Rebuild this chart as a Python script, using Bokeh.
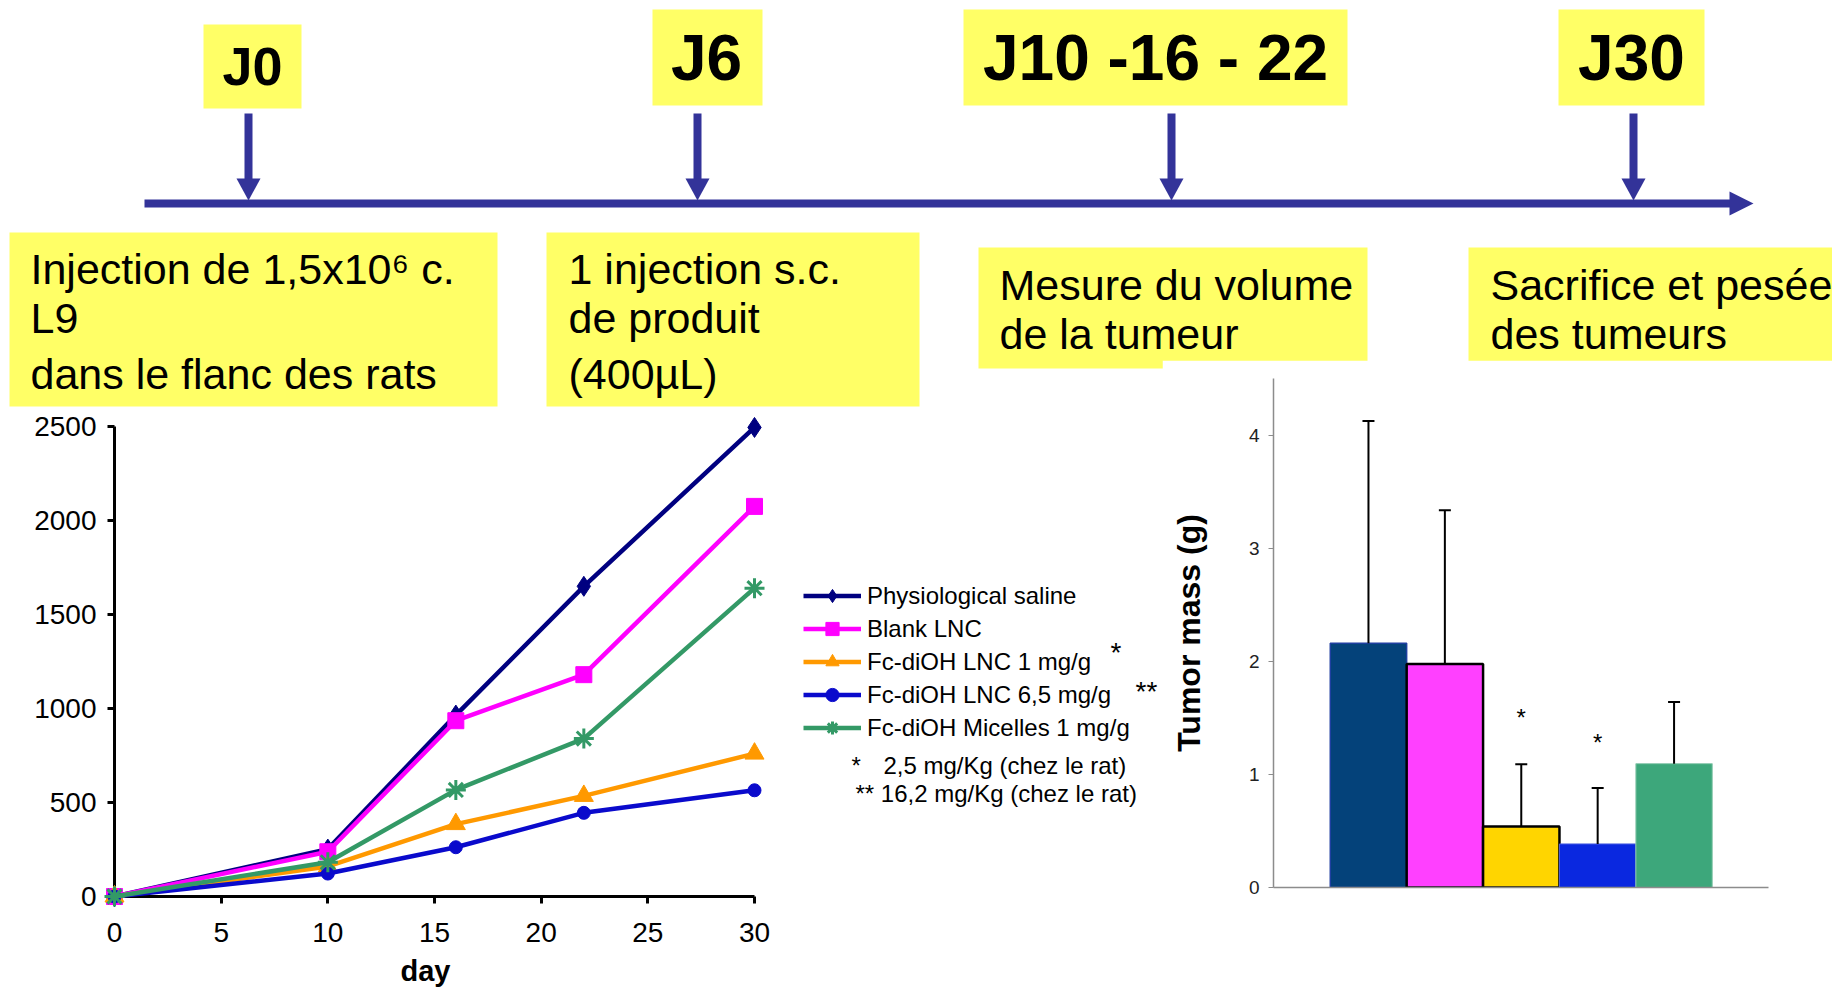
from bokeh.plotting import figure
from bokeh.models import (Range1d, Legend, LegendItem, Whisker, TeeHead, ColumnDataSource,
                          FixedTicker, Label, Title)
from bokeh.layouts import column, row
from bokeh.embed import file_html
from bokeh.resources import INLINE
from bokeh.core.properties import value

FONT = "Liberation Sans"

# ---------------- data ----------------
days = [0, 10, 16, 22, 30]
series_names = ["Physiological saline", "Blank LNC", "Fc-diOH LNC 1 mg/g",
                "Fc-diOH LNC 6,5 mg/g", "Fc-diOH Micelles 1 mg/g"]
vol_saline = [0, 252, 965, 1650, 2495]
vol_blank = [0, 238, 935, 1180, 2075]
vol_fc1 = [0, 160, 385, 535, 760]
vol_fc65 = [0, 122, 262, 445, 565]
vol_micelles = [0, 182, 567, 840, 1640]
day_ticks = [0, 5, 10, 15, 20, 25, 30]
volume_ticks = [0, 500, 1000, 1500, 2000, 2500]

mass_groups = series_names
mass_mean = [2.16, 1.975, 0.54, 0.385, 1.095]
mass_err_top = [4.125, 3.335, 1.09, 0.88, 1.64]
mass_ticks = [0, 1, 2, 3, 4]
mass_stars = ["", "", "*", "*", ""]
mass_star_y = [0, 0, 1.50, 1.28, 0]

timeline_days = ["J0", "J6", "J10 -16 - 22", "J30"]
timeline_notes = [["Injection de 1,5x10\u2076 c.", "L9", "dans le flanc des rats"],
                  ["1 injection s.c.", "de produit", "(400\u00b5L)"],
                  ["Mesure du volume", "de la tumeur"],
                  ["Sacrifice et pes\u00e9e", "des tumeurs"]]
footnotes = ["2,5 mg/Kg (chez le rat)", "** 16,2 mg/Kg (chez le rat)"]

YEL = "#FFFF66"
TL = "#333399"


def ty(baseline, fs):
    # vertical anchor for a text whose baseline should sit at `baseline`
    return baseline - 0.41 * fs


# ---------------- top timeline (pixel coordinate canvas) ----------------
top = figure(width=1832, height=408, x_range=Range1d(0, 1832), y_range=Range1d(408, 0),
             output_backend="svg", toolbar_location=None, min_border=0,
             x_axis_type=None, y_axis_type=None, outline_line_color=None)
top.grid.visible = False

top.quad(left=[203, 652, 963, 1558, 9, 546, 978, 1468],
         right=[301, 762, 1347, 1704, 497, 919, 1367, 1848],
         top=[24, 9, 9, 9, 232, 232, 247, 247],
         bottom=[108, 105, 105, 105, 406, 406, 368, 368],
         fill_color=YEL, line_color=None)

top.quad(left=[144], right=[1731], top=[199], bottom=[207], fill_color=TL, line_color=None)
top.patch(x=[1729, 1753, 1729], y=[191, 203, 215], fill_color=TL, line_color=None)

arrow_x = [248, 697, 1171, 1633]
top.quad(left=[a - 4 for a in arrow_x], right=[a + 4 for a in arrow_x],
         top=[113] * 4, bottom=[180] * 4, fill_color=TL, line_color=None)
top.patches(xs=[[a - 12, a + 12, a] for a in arrow_x], ys=[[178, 178, 200]] * 4,
            fill_color=TL, line_color=None)

top.text(x=[252], y=[ty(88, 54)], text=[timeline_days[0]], text_font=value(FONT),
         text_font_size="54px", text_font_style="bold", text_align="center",
         text_baseline="alphabetic", text_color="black")
top.text(x=[706, 1155, 1631], y=[ty(84, 64)] * 3, text=timeline_days[1:], text_font=value(FONT),
         text_font_size="64px", text_font_style="bold", text_align="center",
         text_baseline="alphabetic", text_color="black")

note_x = [30, 568, 999, 1490]
note_base = [[286, 335, 391], [286, 335, 391], [302, 351], [302, 351]]
for nx, bs, lines in zip(note_x, note_base, timeline_notes):
    top.text(x=[nx] * len(lines), y=[ty(b, 43) for b in bs], text=lines, text_font=value(FONT),
             text_font_size="43px", text_align="left", text_baseline="alphabetic",
             text_color="black")

# ---------------- line chart (frame widened to hold the legend) ----------------
PX_PER_DAY = 640 / 30
frame_w = 1162 - 114
lp = figure(frame_width=frame_w, frame_height=470,
            x_range=Range1d(0, frame_w / PX_PER_DAY), y_range=Range1d(0, 2500),
            min_border_left=114, min_border_right=0, min_border_top=18, min_border_bottom=98,
            output_backend="svg", toolbar_location=None, outline_line_color=None)
lp.grid.visible = False
lp.xaxis.ticker = FixedTicker(ticks=day_ticks)
lp.yaxis.ticker = FixedTicker(ticks=volume_ticks)
lp.xaxis.bounds = (0, 30)
lp.yaxis.bounds = (0, 2500)
for ax in (lp.xaxis, lp.yaxis):
    ax.axis_line_width = 3
    ax.axis_line_color = "black"
    ax.major_tick_line_width = 3
    ax.major_tick_line_color = "black"
    ax.major_tick_out = 7
    ax.major_tick_in = 0
    ax.minor_tick_line_color = None
    ax.major_label_text_font = FONT
    ax.major_label_text_font_size = "28px"
    ax.major_label_text_color = "black"
lp.yaxis.major_label_standoff = 11
lp.xaxis.major_label_standoff = 19
lp.add_layout(Title(text="day", align="left", offset=286, standoff=16, text_font=FONT,
                    text_font_size="29px", text_font_style="bold", text_color="black"),
              "below")

series = [vol_saline, vol_blank, vol_fc1, vol_fc65, vol_micelles]
colors = ["#000080", "#FF00FF", "#FF9900", "#0A0ACC", "#339966"]
markers = ["diamond", "square", "triangle", "circle", "asterisk"]
msizes = [20, 16, 19, 13, 20]
items = []
for name, vals, col, mk, ms in zip(series_names, series, colors, markers, msizes):
    r1 = lp.line(days, vals, line_color=col, line_width=4.5, level="overlay")
    if mk == "asterisk":
        r2 = lp.scatter(days, vals, marker=mk, size=ms, line_color=col, line_width=3,
                        level="overlay")
    else:
        r2 = lp.scatter(days, vals, marker=mk, size=ms, fill_color=col, line_color=col,
                        level="overlay")
    items.append(LegendItem(label=name, renderers=[r1, r2]))

legend = Legend(items=items, location=(689, 152), orientation="vertical",
                label_text_font=FONT, label_text_font_size="24px", label_text_color="black",
                label_height=33, glyph_height=33, glyph_width=58, spacing=0,
                label_standoff=6, padding=0, margin=0, border_line_color=None,
                background_fill_alpha=0)
lp.add_layout(legend)


def lx(sx):
    return (sx - 114) / PX_PER_DAY


def ly(sy):
    return (896 - sy) / 470 * 2500


for sx, sy, txt, fs in [(1110, 652, "*", 28), (1135, 691, "**", 28),
                        (851, 765, "*", 24),
                        (883, 765, footnotes[0], 24),
                        (855, 793, footnotes[1], 24)]:
    lp.add_layout(Label(x=lx(sx), y=ly(sy), text=txt, text_font=FONT,
                        text_font_size=f"{fs}px", text_align="left",
                        text_baseline="alphabetic", text_color="black"))

# ---------------- bar chart ----------------
bp = figure(frame_width=495, frame_height=509, x_range=Range1d(-0.243, 6.236),
            y_range=Range1d(0, 4.5), min_border_left=111, min_border_right=64,
            min_border_top=16, min_border_bottom=109,
            output_backend="svg", toolbar_location=None, outline_line_color=None)
bp.margin = (-48, 0, 0, 0)
bp.grid.visible = False
bp.background_fill_color = "white"
bp.border_fill_color = "white"
bp.yaxis.ticker = FixedTicker(ticks=mass_ticks)
bp.xaxis.ticker = FixedTicker(ticks=[])
for ax in (bp.xaxis, bp.yaxis):
    ax.axis_line_color = "#8c8c8c"
    ax.axis_line_width = 1.5
    ax.major_tick_line_color = "#8c8c8c"
    ax.major_tick_out = 5
    ax.major_tick_in = 0
    ax.minor_tick_line_color = None
    ax.major_label_text_font = FONT
    ax.major_label_text_font_size = "19px"
    ax.major_label_text_color = "#222222"
    ax.major_label_standoff = 9
bp.yaxis.axis_label = "Tumor mass (g)"
bp.yaxis.axis_label_text_font = FONT
bp.yaxis.axis_label_text_font_size = "32px"
bp.yaxis.axis_label_text_font_style = "bold"
bp.yaxis.axis_label_text_color = "black"
bp.yaxis.axis_label_standoff = 39

pos = list(range(1, len(mass_groups) + 1))
bar_fill = ["#04427A", "#FF40FF", "#FFD500", "#0A28E0", "#3DA77B"]
bar_line = ["#1f3fa0", "black", "black", "#4a5fe0", "#8fcab0"]
bar_lw = [1.5, 2.5, 2.5, 1, 1]
bsrc = ColumnDataSource(dict(x=pos, top=mass_mean, fill=bar_fill, line=bar_line, lw=bar_lw,
                             upper=mass_err_top))
bp.vbar(x="x", top="top", width=1, bottom=0, fill_color="fill", line_color="line",
        line_width="lw", source=bsrc)
wh = Whisker(base="x", lower="top", upper="upper", source=bsrc, line_color="black",
             line_width=2, lower_head=None,
             upper_head=TeeHead(size=12, line_color="black", line_width=2), level="overlay")
bp.add_layout(wh)
bp.text(x=pos, y=mass_star_y, text=mass_stars, text_font=value(FONT), text_font_size="24px",
        text_align="center", text_baseline="alphabetic", text_color="black")

layout = column(top, row(lp, bp))
open("out.html", "w").write(file_html(layout, INLINE))
